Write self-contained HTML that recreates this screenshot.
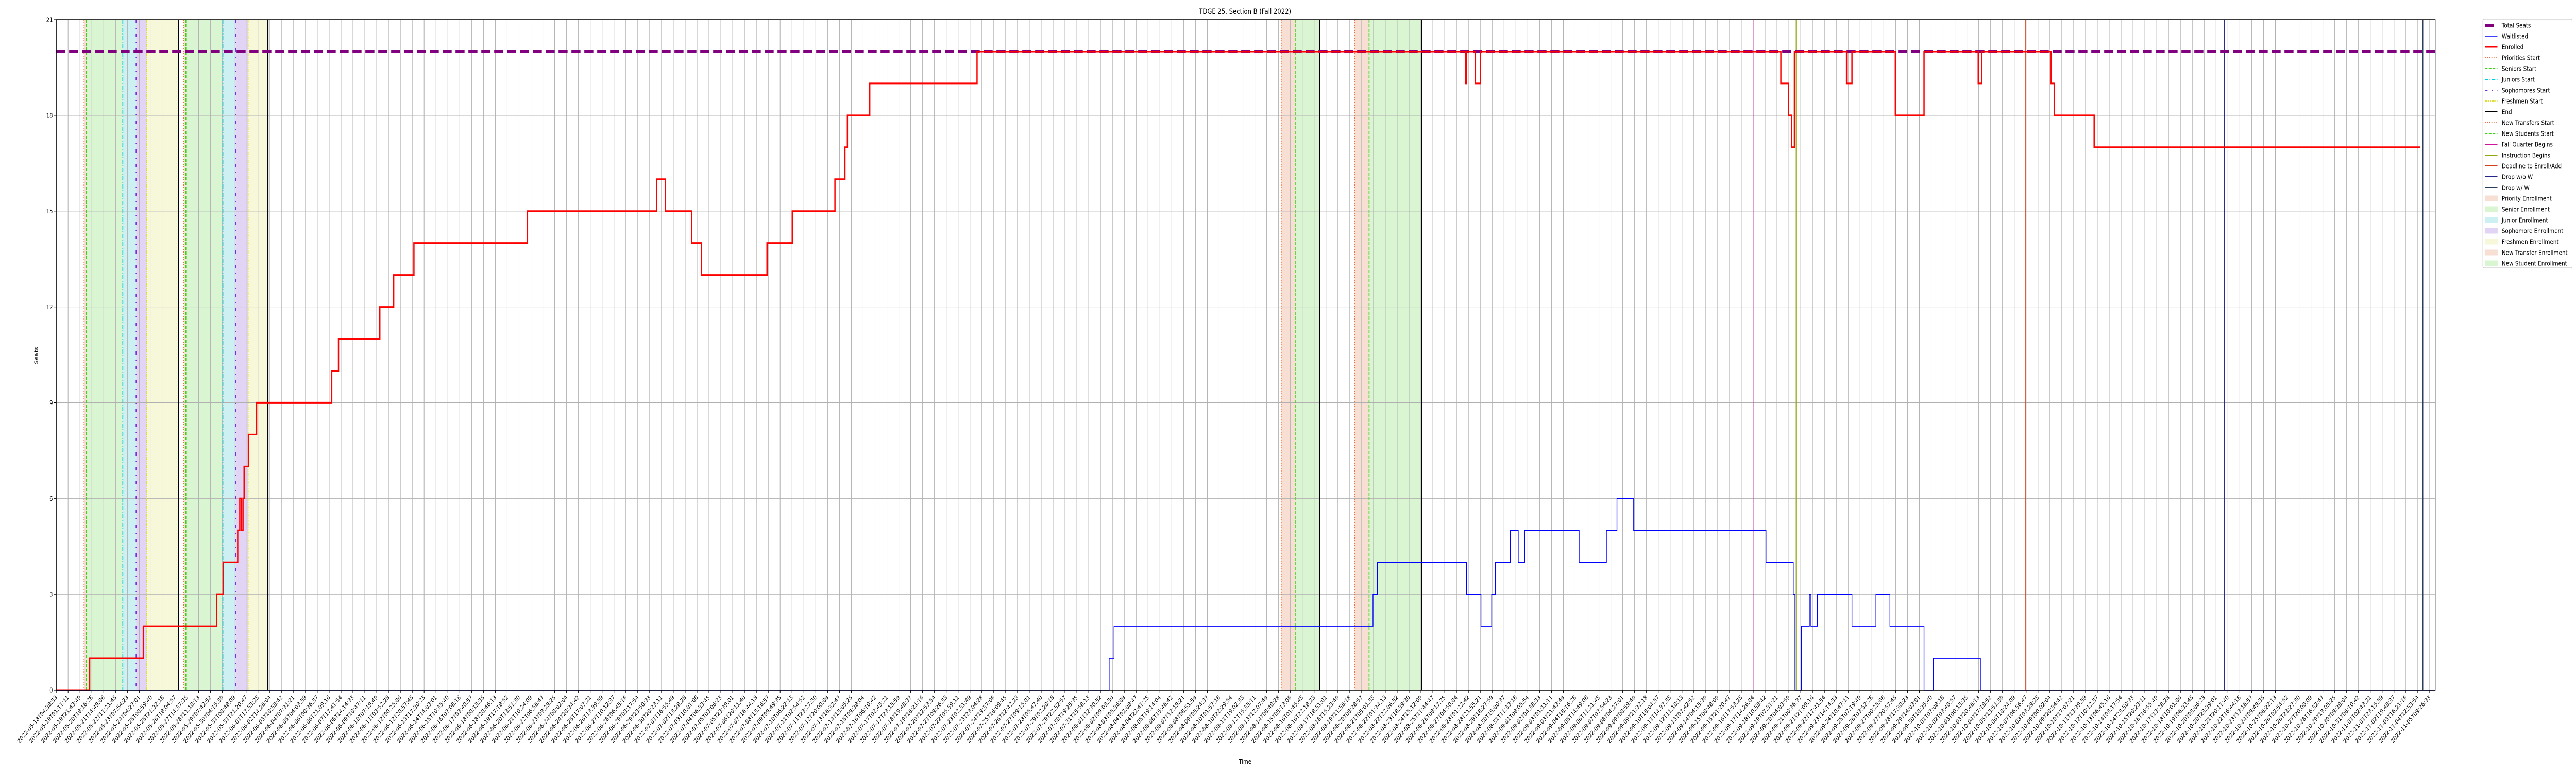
<!DOCTYPE html>
<html><head><meta charset="utf-8"><style>
html,body{margin:0;padding:0;background:#fff;overflow:hidden;width:100%;height:100%;}
svg{display:block;font-family:"DejaVu Sans","Liberation Sans",sans-serif;width:100vw;height:100vh;}
</style></head>
<body>
<svg id="chart" xmlns="http://www.w3.org/2000/svg" viewBox="0 0 6000 1500" preserveAspectRatio="none">
<rect x="0" y="0" width="6000" height="1500" fill="#fff"/>
<g id="shades"></g>
<g id="grid"></g>
<g id="events"></g>
<g id="series"></g>
<g id="axes"></g>
<text x="2900" y="27" font-size="14" text-anchor="middle">TDGE 25, Section B (Fall 2022)</text>
<text x="2900" y="1482" font-size="12" text-anchor="middle">Time</text>
<text x="0" y="0" font-size="12" text-anchor="middle" transform="translate(88,690) rotate(-90)">Seats</text>
<g id="legend"></g>
</svg>
<script>
// ---- data (x in days since 2022-05-18T04:38:33) ----
const enrolledT = [0,2.41,6.28,11.57,12.04,13.09,13.24,13.35,13.47,13.55,13.86,14.45,19.87,20.36,23.34,24.34,25.80,33.99,43.3,43.94,45.83,46.55,51.27,53.09,56.17,56.89,57.07,58.68,66.42,101.66,101.73,102.37,102.73,124.4,124.96,125.17,125.38,129.14,129.53,132.66,134.73,138.64,138.89,143.90,144.12,147.0];
const enrolledV = [0,1,2,3,4,5,6,5,6,7,8,9,10,11,12,13,14,15,16,15,14,13,14,15,16,17,18,19,20,19,20,19,20,19,18,17,20,19,20,18,20,19,20,19,18,17];
const enrolledEnd = 170.5;
const waitT = [0,75.95,76.30,94.98,95.3,101.73,102.77,103.54,103.81,104.88,105.46,105.92,109.85,111.82,112.58,113.78,123.33,125.30,125.42,125.88,126.46,126.57,127.03,129.53,131.26,132.27,134.73,135.4,138.8];
const waitV = [0,1,2,3,4,3,2,3,4,5,4,5,4,5,6,5,4,3,0,2,3,2,3,2,3,2,0,1,0];
const waitEnd = 171.6;
const totalSeats = 20;
const cycleStarts1 = [2.01,2.17,4.80,5.76,6.53,8.83];
const cycleStarts2 = [9.20,9.35,12.02,12.94,13.84,15.27];
const newCycle1 = [88.36,89.41,91.14];
const newCycle2 = [93.65,94.70,98.51];
const fallQuarterBegins = 122.4;
const instructionBegins = 125.5;
const deadlineAdd = 142.06;
const dropNoW = 156.4;
const dropW = 170.7;
const yTicks = [0,3,6,9,12,15,18,21];
const tickStepDays = 0.856;
const tickCount = 201;
const startDate = "2022-05-18T04:38:33";

// ---- scales ----
const X0=131, X1=5672, Y0=1339, Y1=38, XMIN=0, XMAX=171.6, YMIN=0, YMAX=21;
const xs = d => X0 + (d-XMIN)/(XMAX-XMIN)*(X1-X0);
const ys = v => Y0 - (v-YMIN)/(YMAX-YMIN)*(Y0-Y1);
const NS="http://www.w3.org/2000/svg";
function mk(tag, attrs, parent){const e=document.createElementNS(NS,tag);for(const k in attrs)e.setAttribute(k,attrs[k]);parent.appendChild(e);return e;}

const colors = {pri:"#f26b38",sen:"#3fd11a",jun:"#00ccd6",sop:"#7a2be0",fre:"#dede30",end:"#000",fall:"#d0139c",instr:"#8ea812",dead:"#d2411a",dropno:"#25258a",dropw:"#2c3d5c"};
const fills = {pri:"#f7dfd4",sen:"#daf5d2",jun:"#cdf1f2",sop:"#e2d4f5",fre:"#f7f8d9"};
const dashes = {pri:"2,3",sen:"6,3",jun:"8,3,2,3",sop:"6,10,2,10",fre:"6,2,2,2,2,2"};

const shades=document.getElementById('shades');
const keys=["pri","sen","jun","sop","fre"];
[cycleStarts1,cycleStarts2].forEach((c)=>{
  for(let i=0;i<5;i++){
    const r=mk('rect',{x:xs(c[i]),y:Y1,width:xs(c[i+1])-xs(c[i]),height:Y0-Y1,fill:fills[keys[i]]},shades);
    
    
  }
});
[newCycle1,newCycle2].forEach(c=>{
  const r1=mk('rect',{x:xs(c[0]),y:Y1,width:xs(c[1])-xs(c[0]),height:Y0-Y1,fill:fills.pri},shades);
  
  
  const r2=mk('rect',{x:xs(c[1]),y:Y1,width:xs(c[2])-xs(c[1]),height:Y0-Y1,fill:fills.sen},shades);
  
  
});

const grid=document.getElementById('grid'), axes=document.getElementById('axes');
function fmt(d){const p=n=>String(n).padStart(2,'0');return d.getUTCFullYear()+'-'+p(d.getUTCMonth()+1)+'-'+p(d.getUTCDate())+'T'+p(d.getUTCHours())+':'+p(d.getUTCMinutes())+':'+p(d.getUTCSeconds());}
const t0=Date.parse(startDate+"Z");
const tickDays=[], tickLabels=[];
for(let i=0;i<tickCount;i++){tickDays.push(i*tickStepDays);tickLabels.push(fmt(new Date(t0+i*tickStepDays*86400000)));}
tickDays.forEach((d,i)=>{
  const x=xs(d);
  const g=mk('line',{x1:x,x2:x,y1:Y1,y2:Y0,stroke:"#b0b0b0","stroke-width":1.2},grid);
  
  
  const t=mk('line',{x1:x,x2:x,y1:Y0,y2:Y0+5,stroke:"#000","stroke-width":1.2},axes);
  
  
  const lb=mk('text',{x:0,y:0,"font-size":11.5,"text-anchor":"end",transform:`translate(${x+3},${Y0+15}) rotate(-45)`},axes);
  lb.textContent=tickLabels[i];
  
  
});
yTicks.forEach(v=>{
  const y=ys(v);
  const g=mk('line',{x1:X0,x2:X1,y1:y,y2:y,stroke:"#b0b0b0","stroke-width":1.2},grid);
  
  
  const t=mk('line',{x1:X0-5,x2:X0,y1:y,y2:y,stroke:"#000","stroke-width":1.2},axes);
  
  
  const lb=mk('text',{x:X0-8,y:y+4.5,"font-size":12,"text-anchor":"end"},axes);
  lb.textContent=String(v);
  
  
});
const frame=mk('rect',{x:X0,y:Y1,width:X1-X0,height:Y0-Y1,fill:"none",stroke:"#000","stroke-width":1.5},axes);



const ev=document.getElementById('events');
function vline(d,color,dash,w,name){
  const l=mk('line',{x1:xs(d),x2:xs(d),y1:Y1,y2:Y0,stroke:color,"stroke-width":w},ev);
  if(dash)l.setAttribute('stroke-dasharray',dash);
  
  
}
[cycleStarts1,cycleStarts2].forEach(c=>{
  for(let i=0;i<5;i++)vline(c[i],colors[keys[i]],dashes[keys[i]],2,keys[i]+'-start-line');
  vline(c[5],"#000",null,2.5,'end-line');
});
[newCycle1,newCycle2].forEach(c=>{
  vline(c[0],colors.pri,dashes.pri,2,'new-transfers-start-line');
  vline(c[1],colors.sen,dashes.sen,2,'new-students-start-line');
  vline(c[2],"#000",null,2.5,'end-line');
});
vline(fallQuarterBegins,colors.fall,null,1.5,'fall-quarter-begins-line');
vline(instructionBegins,colors.instr,null,1.5,'instruction-begins-line');
vline(deadlineAdd,colors.dead,null,1.5,'deadline-enroll-line');
vline(dropNoW,colors.dropno,null,1.5,'drop-without-w-line');
vline(dropW,colors.dropw,null,2.5,'drop-with-w-line');

const ser=document.getElementById('series');
function stepPath(T,V,end){
  let p=`M${xs(T[0])},${ys(V[0])}`;
  for(let i=1;i<T.length;i++){p+=`H${xs(T[i])}V${ys(V[i])}`;}
  p+=`H${xs(end)}`;return p;
}
const ts=mk('line',{x1:X0,x2:X1,y1:ys(totalSeats),y2:ys(totalSeats),stroke:"#800080","stroke-width":6,"stroke-dasharray":"21,9"},ser);


const en=mk('path',{d:stepPath(enrolledT,enrolledV,enrolledEnd),fill:"none",stroke:"#ff0000","stroke-width":3},ser);


const wl=mk('path',{d:stepPath(waitT,waitV,waitEnd),fill:"none",stroke:"#0000ff","stroke-width":1.6},ser);



const lg=document.getElementById('legend');
const legendNames=["Total Seats","Waitlisted","Enrolled","Priorities Start","Seniors Start","Juniors Start","Sophomores Start","Freshmen Start","End","New Transfers Start","New Students Start","Fall Quarter Begins","Instruction Begins","Deadline to Enroll/Add","Drop w/o W","Drop w/ W","Priority Enrollment","Senior Enrollment","Junior Enrollment","Sophomore Enrollment","Freshmen Enrollment","New Transfer Enrollment","New Student Enrollment"];
const legendStyle=[["line","#800080",6,null],["line","#0000ff",1.6,null],["line","#ff0000",3,null],["line",colors.pri,2,dashes.pri],["line",colors.sen,2,dashes.sen],["line",colors.jun,2,dashes.jun],["line",colors.sop,2,dashes.sop],["line",colors.fre,2,dashes.fre],["line","#000",2,null],["line",colors.pri,2,dashes.pri],["line",colors.sen,2,dashes.sen],["line",colors.fall,2,null],["line",colors.instr,2,null],["line",colors.dead,2,null],["line",colors.dropno,2,null],["line",colors.dropw,2,null],["patch",fills.pri],["patch",fills.sen],["patch",fills.jun],["patch",fills.sop],["patch",fills.fre],["patch",fills.pri],["patch",fills.sen]];
const box=mk('rect',{x:5783,y:37,width:208,height:483,fill:"#fff",stroke:"#cccccc","stroke-width":1.2,rx:3},lg);


legendNames.forEach((n,i)=>{
  const y=49+i*21;
  const s=legendStyle[i];
  const g=mk('g',{},lg);
  
  
  if(s[0]==="line"){
    const x2 = i===0 ? 5809 : 5817;
    const l=mk('line',{x1:5788,x2:x2,y1:y,y2:y,stroke:s[1],"stroke-width":s[2]},g);
    if(s[3])l.setAttribute('stroke-dasharray',s[3]);
  } else {
    mk('rect',{x:5788,y:y-5,width:29,height:10,fill:s[1],stroke:s[1]},g);
  }
  const t=mk('text',{x:5827,y:y+4.5,"font-size":12.5},g);
  t.textContent=n;
});
</script>
</body></html>
